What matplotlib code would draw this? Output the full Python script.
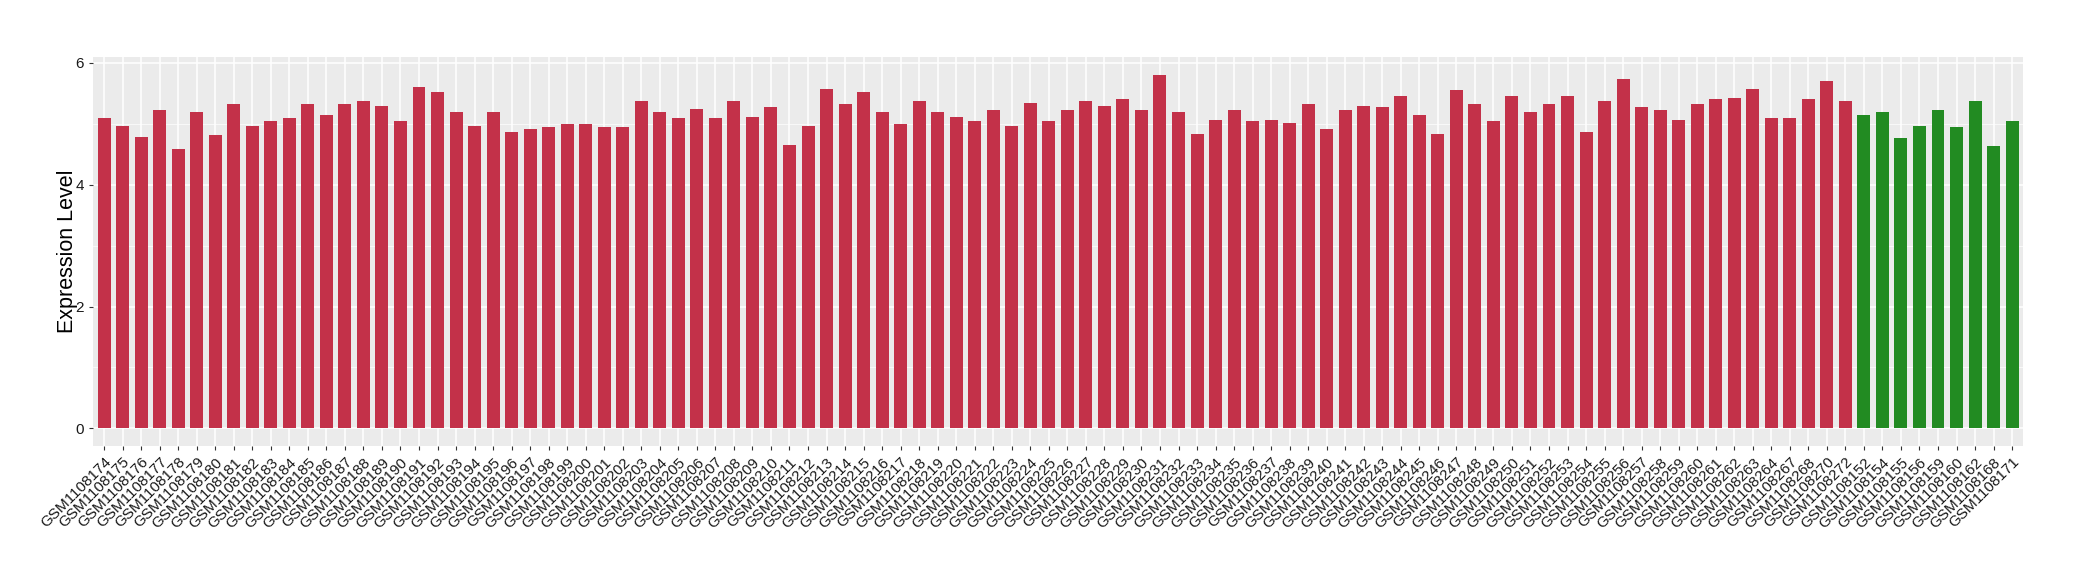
import numpy as np
import matplotlib.pyplot as plt

plt.rcParams['font.family'] = 'sans-serif'
plt.rcParams['font.sans-serif'] = ['Liberation Sans', 'DejaVu Sans']

# sample ids (red group then green group)
red_ids = [str(n) for n in range(108174, 108265)] + ['108267', '108268', '108270', '108272']
green_ids = ['108152', '108154', '108155', '108156', '108159', '108160', '108162', '108168', '108171']

red_vals = [
    5.10, 4.97, 4.79, 5.23, 4.58, 5.20, 4.81, 5.32, 4.97, 5.04,
    5.09, 5.33, 5.14, 5.33, 5.37, 5.30, 5.05, 5.60, 5.53, 5.19,
    4.97, 5.20, 4.87, 4.91, 4.94, 4.99, 4.99, 4.94, 4.94, 5.37,
    5.19, 5.09, 5.25, 5.10, 5.37, 5.12, 5.28, 4.66, 4.97, 5.58,
    5.32, 5.53, 5.20, 4.99, 5.37, 5.20, 5.12, 5.05, 5.23, 4.96,
    5.35, 5.04, 5.22, 5.38, 5.30, 5.41, 5.23, 5.81, 5.20, 4.83,
    5.07, 5.23, 5.05, 5.07, 5.01, 5.32, 4.91, 5.22, 5.30, 5.28,
    5.46, 5.15, 4.84, 5.55, 5.32, 5.05, 5.46, 5.20, 5.33, 5.46,
    4.87, 5.38, 5.74, 5.28, 5.23, 5.07, 5.33, 5.40, 5.43, 5.58,
    5.10, 5.09, 5.41, 5.71, 5.38,
]
green_vals = [5.14, 5.20, 4.76, 4.96, 5.23, 4.94, 5.38, 4.63, 5.04]

labels = ['GSM1' + s for s in red_ids + green_ids]
values = red_vals + green_vals
colors = ['#C33149'] * len(red_vals) + ['#228B22'] * len(green_vals)

fig = plt.figure(figsize=(20.8, 5.8), dpi=100)
ax = fig.add_axes([0.0447, 0.231, 0.928, 0.671])
ax.set_facecolor('#EBEBEB')

x = np.arange(len(values))
ax.bar(x, values, width=0.7, color=colors, zorder=3)

ax.set_xlim(-0.6, len(values) - 0.4)
ax.set_ylim(-0.29, 6.1)
ax.set_yticks([0, 2, 4, 6])
ax.set_yticks([1, 3, 5], minor=True)
ax.set_xticks(x)
ax.set_xticklabels(labels, rotation=45, ha='right', rotation_mode='anchor', fontsize=11)

ax.grid(which='major', color='white', linewidth=1.1, zorder=0)
ax.grid(which='minor', axis='y', color='white', linewidth=0.5, zorder=0)
ax.tick_params(axis='both', which='major', length=3, color='#333333', labelsize=11, labelcolor='#1a1a1a')
ax.tick_params(axis='y', which='minor', length=0)
for s in ax.spines.values():
    s.set_visible(False)

ax.set_ylabel('Expression Level', fontsize=15.5, labelpad=-2)

fig.savefig('out.png', dpi=100)
